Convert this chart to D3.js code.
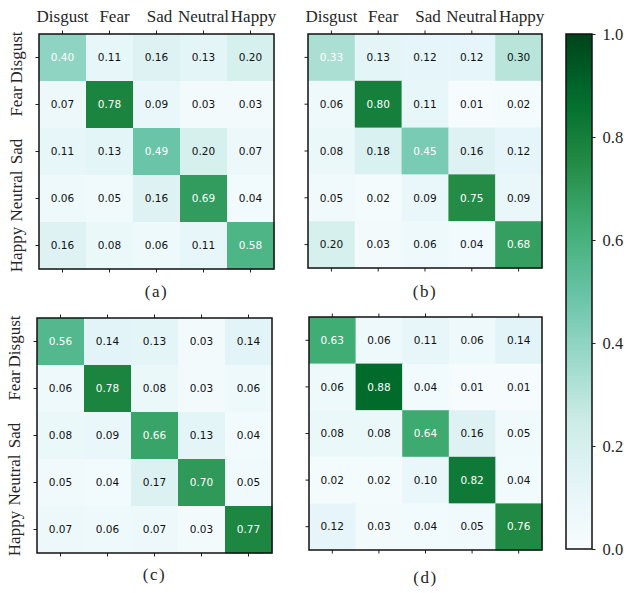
<!DOCTYPE html>
<html>
<head>
<meta charset="utf-8">
<script src="https://cdn.jsdelivr.net/npm/d3@7"></script>
<style>
  body { margin: 0; background: #fff; }
  .lab { font-family: "Liberation Serif", "Times New Roman", serif; fill: #262626; }
  .val { font-family: "DejaVu Sans", sans-serif; font-size: 10.5px; }
</style>
</head>
<body>
<div id="container"></div>
<script>
// classes
var classes = ["Disgust", "Fear", "Sad", "Neutral", "Happy"];

// confusion matrices, rows = true class, cols = predicted
var matA = [
	[0.40, 0.11, 0.16, 0.13, 0.20],
	[0.07, 0.78, 0.09, 0.03, 0.03],
	[0.11, 0.13, 0.49, 0.20, 0.07],
	[0.06, 0.05, 0.16, 0.69, 0.04],
	[0.16, 0.08, 0.06, 0.11, 0.58]
];
var matB = [
	[0.33, 0.13, 0.12, 0.12, 0.30],
	[0.06, 0.80, 0.11, 0.01, 0.02],
	[0.08, 0.18, 0.45, 0.16, 0.12],
	[0.05, 0.02, 0.09, 0.75, 0.09],
	[0.20, 0.03, 0.06, 0.04, 0.68]
];
var matC = [
	[0.56, 0.14, 0.13, 0.03, 0.14],
	[0.06, 0.78, 0.08, 0.03, 0.06],
	[0.08, 0.09, 0.66, 0.13, 0.04],
	[0.05, 0.04, 0.17, 0.70, 0.05],
	[0.07, 0.06, 0.07, 0.03, 0.77]
];
var matD = [
	[0.63, 0.06, 0.11, 0.06, 0.14],
	[0.06, 0.88, 0.04, 0.01, 0.01],
	[0.08, 0.08, 0.64, 0.16, 0.05],
	[0.02, 0.02, 0.10, 0.82, 0.04],
	[0.12, 0.03, 0.04, 0.05, 0.76]
];
var colorTicks = [0, 0.2, 0.4, 0.6, 0.8, 1.0];

// small nudges of the tick labels, as in the original figure
var colShift = [0, 5, 3, 0, 3];
var rowShift = [0, -3, 0, -2.5, 4];

var W = 624, H = 593;

var svg = d3.select("#container")
	.append("svg")
	.attr("width", W)
	.attr("height", H);

// BuGn, linear between the 9 scheme colours like matplotlib
var bugn = d3.schemeBuGn[9];
var color = d3.scaleLinear()
	.domain(d3.range(9).map(function(i) { return i / 8; }))
	.range(bugn)
	.interpolate(d3.interpolateRgb);

// panel layout
var panels = [
	{ m: matA, name: "(a)", x: 39, y: 34, size: 235, top: true, left: true, ly: 297 },
	{ m: matB, name: "(b)", x: 308, y: 34, size: 234, top: true, left: false, ly: 297 },
	{ m: matC, name: "(c)", x: 37, y: 318, size: 235, top: false, left: true, ly: 580 },
	{ m: matD, name: "(d)", x: 309, y: 317, size: 233, top: false, left: false, ly: 583 }
];

panels.forEach(function(p) {
	var g = svg.append("g")
		.attr("transform", "translate(" + p.x + "," + p.y + ")");

	var x = d3.scaleBand().domain(classes).range([0, p.size]);
	var y = d3.scaleBand().domain(classes).range([0, p.size]);

	var cells = [];
	p.m.forEach(function(row, i) {
		row.forEach(function(v, j) {
			cells.push({ r: classes[i], c: classes[j], v: v });
		});
	});

	g.selectAll("rect.cell")
		.data(cells)
		.enter().append("rect")
		.attr("class", "cell")
		.attr("x", function(d) { return x(d.c); })
		.attr("y", function(d) { return y(d.r); })
		.attr("width", x.bandwidth() + 0.5)
		.attr("height", y.bandwidth() + 0.5)
		.attr("fill", function(d) { return color(d.v); });

	g.selectAll("text.val")
		.data(cells)
		.enter().append("text")
		.attr("class", "val")
		.attr("x", function(d) { return x(d.c) + x.bandwidth() / 2; })
		.attr("y", function(d) { return y(d.r) + y.bandwidth() / 2; })
		.attr("dy", "0.36em")
		.attr("text-anchor", "middle")
		.attr("fill", function(d) { return d.v > 0.32 ? "#ffffff" : "#111111"; })
		.text(function(d) { return d.v.toFixed(2); });

	// axes
	var top = g.append("g")
		.call(d3.axisTop(x).tickSize(3.5).tickSizeOuter(0).tickPadding(9));
	var bottom = g.append("g")
		.attr("transform", "translate(0," + p.size + ")")
		.call(d3.axisBottom(x).tickSize(3.5).tickSizeOuter(0).tickFormat(""));
	var left = g.append("g")
		.call(d3.axisLeft(y).tickSize(3.5).tickSizeOuter(0));

	[top, bottom, left].forEach(function(a) {
		a.select(".domain").remove();
		a.selectAll("line").attr("stroke", "#222").attr("stroke-width", 1);
	});

	if (p.top) {
		top.selectAll("text")
			.attr("class", "lab")
			.style("font-size", "17px")
			.attr("dx", function(d, i) { return colShift[i]; });
	} else {
		top.selectAll("text").remove();
	}

	if (p.left) {
		left.selectAll("text")
			.attr("class", "lab")
			.style("font-size", "17px")
			.attr("x", null)
			.attr("dy", null)
			.attr("text-anchor", "middle")
			.attr("transform", function(d, i) {
				return "translate(-17," + rowShift[i] + ") rotate(-90)";
			});
	} else {
		left.selectAll("text").remove();
	}

	// frame
	g.append("rect")
		.attr("width", p.size)
		.attr("height", p.size)
		.attr("fill", "none")
		.attr("stroke", "#111")
		.attr("stroke-width", 1.5);

	svg.append("text")
		.attr("class", "lab")
		.attr("x", p.x + p.size / 2)
		.attr("y", p.ly)
		.attr("text-anchor", "middle")
		.style("font-size", "17px")
		.style("letter-spacing", "1.5px")
		.text(p.name);
});

// colorbar
var cb = { x: 566, y: 34, w: 26, h: 515 };
var cScale = d3.scaleLinear().domain([0, 1]).range([cb.y + cb.h, cb.y]);

var defs = svg.append("defs");
var grad = defs.append("linearGradient")
	.attr("id", "cbgrad")
	.attr("x1", "0").attr("y1", "1").attr("x2", "0").attr("y2", "0");
grad.selectAll("stop")
	.data(d3.range(0, 1.0001, 0.05))
	.enter().append("stop")
	.attr("offset", function(d) { return d; })
	.attr("stop-color", function(d) { return color(d); });

svg.append("rect")
	.attr("x", cb.x)
	.attr("y", cb.y)
	.attr("width", cb.w)
	.attr("height", cb.h)
	.attr("fill", "url(#cbgrad)")
	.attr("stroke", "#111")
	.attr("stroke-width", 1.5);

var cAxis = svg.append("g")
	.attr("transform", "translate(" + (cb.x + cb.w) + ",0)")
	.call(d3.axisRight(cScale).tickValues(colorTicks).tickFormat(d3.format(".1f"))
		.tickSize(3.5).tickSizeOuter(0).tickPadding(7));
cAxis.select(".domain").remove();
cAxis.selectAll("line").attr("stroke", "#222");
cAxis.selectAll("text")
	.attr("class", "lab")
	.style("font-size", "16.5px");
</script>
</body>
</html>
